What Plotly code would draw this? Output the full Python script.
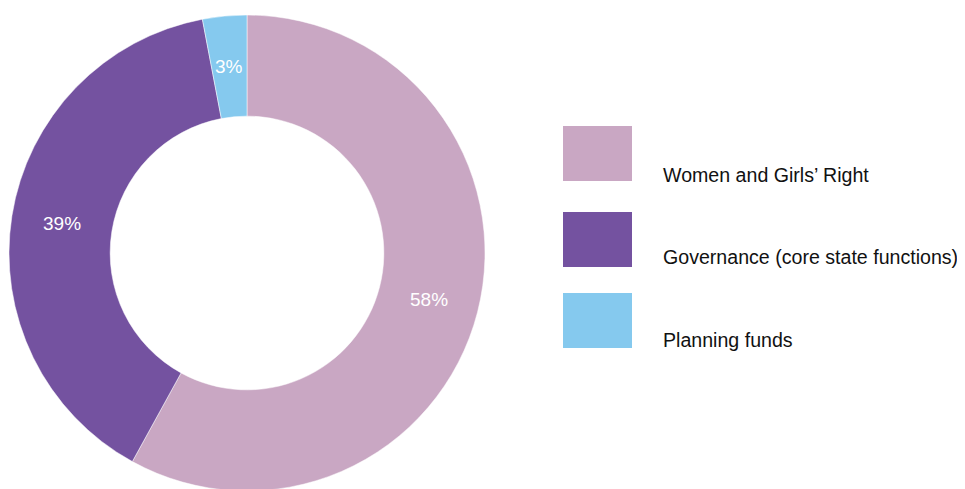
import math
import plotly.graph_objects as go

# Data
categories = ["Women and Girls\u2019 Right", "Governance (core state functions)", "Planning funds"]
shares = [58, 39, 3]
colors = ["#C9A7C3", "#7452A0", "#85C9EE"]

# Figure size (page has an 8px body margin)
W, H = 957, 489
FONT = "Liberation Sans, Arial, sans-serif"

# Pie geometry (pixels within the figure)
pie_cx, pie_cy, pie_r = 239, 245, 238
hole = 0.575

fig = go.Figure(go.Pie(
    labels=categories,
    values=shares,
    marker=dict(colors=colors, line=dict(color="white", width=0.5)),
    hole=hole,
    sort=False,
    direction="clockwise",
    rotation=0,
    textinfo="none",
    domain=dict(x=[(pie_cx - pie_r) / W, (pie_cx + pie_r) / W],
                y=[1 - (pie_cy + pie_r) / H, 1 - (pie_cy - pie_r) / H]),
    showlegend=False,
    hoverinfo="label+percent",
))

annotations = []
shapes = []

# Percentage labels at the middle of each ring segment
total = sum(shares)
label_r = pie_r * (1 + hole) / 2
cum = 0
for v in shares:
    mid = (cum + v / 2) / total * 2 * math.pi
    cum += v
    annotations.append(dict(
        text=f"{v}%", xref="paper", yref="paper",
        x=(pie_cx + label_r * math.sin(mid)) / W,
        y=1 - (pie_cy - label_r * math.cos(mid)) / H,
        xanchor="center", yanchor="middle", showarrow=False,
        font=dict(size=19, color="white", family=FONT),
    ))

# Custom legend (large swatches)
sw_x0, sw_x1 = 555, 624
sw_tops = [118, 204, 285]
sw_h = 55
txt_x = 653
txt_centers = [167, 249, 332]

for i, (cat, col) in enumerate(zip(categories, colors)):
    y0 = sw_tops[i]
    shapes.append(dict(
        type="rect", xref="paper", yref="paper",
        x0=sw_x0 / W, x1=sw_x1 / W,
        y0=1 - (y0 + sw_h) / H, y1=1 - y0 / H,
        fillcolor=col, line=dict(width=0),
    ))
    annotations.append(dict(
        text=cat, xref="paper", yref="paper",
        x=txt_x / W, y=1 - txt_centers[i] / H,
        xanchor="left", yanchor="middle", showarrow=False,
        font=dict(size=19.6, color="#111111", family=FONT),
    ))

fig.update_layout(
    width=W, height=H,
    margin=dict(l=0, r=0, t=0, b=0),
    paper_bgcolor="white", plot_bgcolor="white",
    shapes=shapes, annotations=annotations,
    font=dict(family=FONT),
)

fig.write_html("out.html", post_script="document.body.style.overflow='hidden';")
